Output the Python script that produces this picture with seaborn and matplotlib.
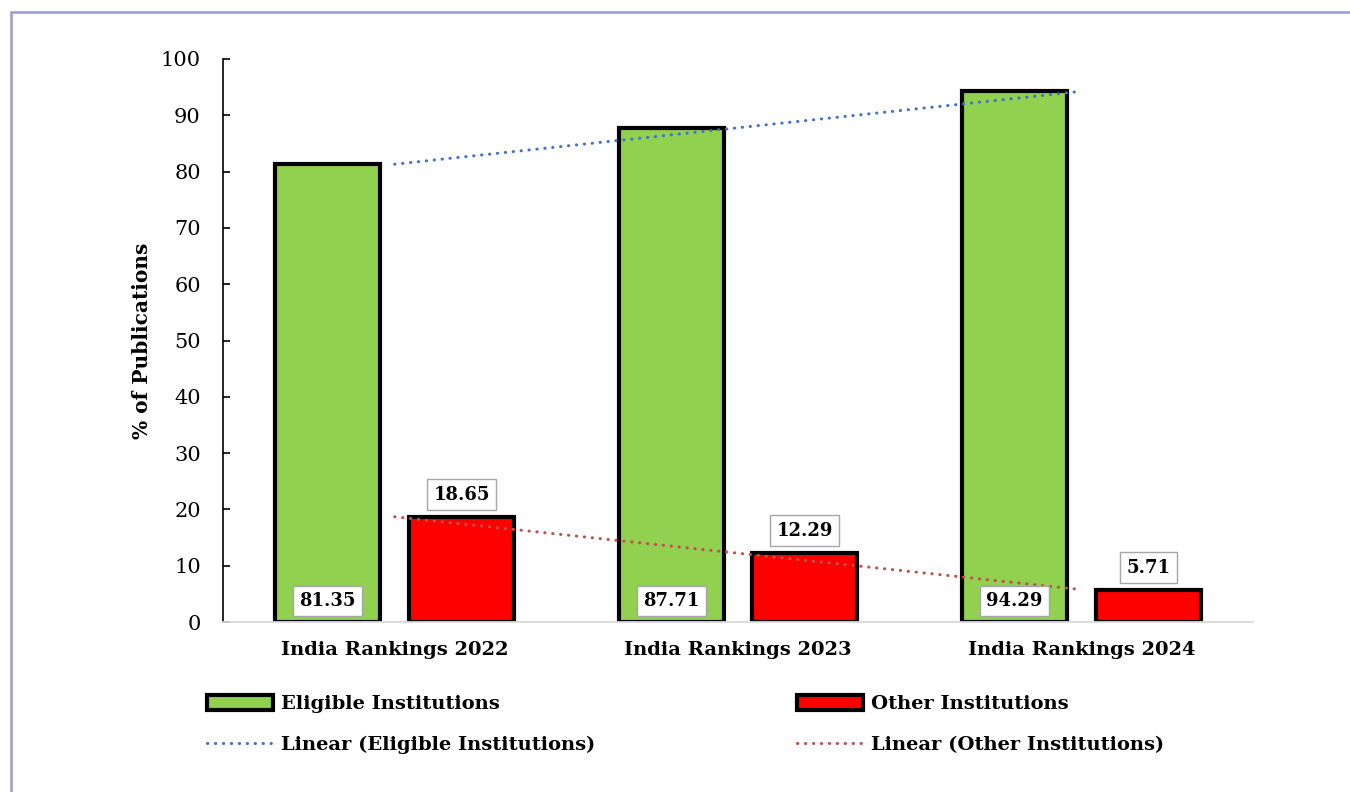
import numpy as np
import pandas as pd
import matplotlib
matplotlib.use("Agg")
import matplotlib.pyplot as plt
import seaborn as sns
from matplotlib.patches import Patch, Rectangle
from matplotlib.lines import Line2D

# ---- data ----
categories = ["India Rankings 2022", "India Rankings 2023", "India Rankings 2024"]
eligible = [81.35, 87.71, 94.29]
other = [18.65, 12.29, 5.71]
groups = ["Eligible Institutions", "Other Institutions"]
y_ticks = [0, 10, 20, 30, 40, 50, 60, 70, 80, 90, 100]

GREEN = "#92d050"
RED = "#ff0000"
BLUE_T = "#4472c4"
RED_T = "#c0504d"

sns.set_theme(style="white")
plt.rcParams["font.family"] = ["DejaVu Serif"]
plt.rcParams.update({"text.color": "black", "axes.labelcolor": "black",
                     "xtick.color": "black", "ytick.color": "black"})

df = pd.DataFrame({
    "Ranking": categories * 2,
    "Share": eligible + other,
    "Group": [groups[0]] * 3 + [groups[1]] * 3,
})

fig = plt.figure(figsize=(13.5, 7.92), dpi=100)
ax = fig.add_axes([223 / 1350, 1 - 622 / 792, (1253 - 223) / 1350, (622 - 59) / 792])

sns.barplot(data=df, x="Ranking", y="Share", hue="Group", order=categories,
            hue_order=groups, palette=[GREEN, RED], width=0.78, gap=0.216,
            edgecolor="black", linewidth=3, saturation=1, legend=False, ax=ax)
ax.set_xlim(-0.5, 2.5)

# trendlines
xs = np.arange(len(categories))
for vals, col in [(eligible, BLUE_T), (other, RED_T)]:
    k, b = np.polyfit(xs, vals, 1)
    xx = np.array([xs[0], xs[-1]])
    ax.plot(xx, k * xx + b, color=col, lw=2.2, linestyle=(0, (0.1, 2.5)),
            dash_capstyle="round", zorder=5)

# data labels
box = dict(boxstyle="square,pad=0.35", fc="white", ec="#a6a6a6", lw=1)
cont_g, cont_r = ax.containers[0], ax.containers[1]
for bar, v in zip(cont_g, eligible):
    ax.text(bar.get_x() + bar.get_width() / 2, 3.7, f"{v:.2f}", ha="center",
            va="center", fontsize=13, fontweight="bold", bbox=box, zorder=6)
for bar, v in zip(cont_r, other):
    ax.annotate(f"{v:.2f}", (bar.get_x() + bar.get_width() / 2, v),
                xytext=(0, 16), textcoords="offset points", ha="center",
                va="center", fontsize=13, fontweight="bold", bbox=box, zorder=6)

ax.set_ylim(0, 100)
ax.set_yticks(y_ticks)
ax.set_xlabel("")
ax.set_ylabel("% of Publications", fontsize=14.5, fontweight="bold", labelpad=6)
for s in ["top", "right"]:
    ax.spines[s].set_visible(False)
ax.spines["left"].set_color("black")
ax.spines["left"].set_linewidth(1.2)
ax.spines["bottom"].set_color("#d9d9d9")
ax.spines["bottom"].set_linewidth(1.3)
ax.tick_params(axis="y", direction="in", length=5, width=1.2, color="black",
               pad=16, labelsize=15, left=True)
ax.tick_params(axis="x", length=0, pad=14)
for lab in ax.get_xticklabels():
    lab.set_fontsize(14)
    lab.set_fontweight("bold")

# legend
handles = [
    Patch(fc=GREEN, ec="black", lw=3),
    Line2D([0], [0], color=BLUE_T, lw=2.2, linestyle=(0, (0.1, 2.5)), dash_capstyle="round"),
    Patch(fc=RED, ec="black", lw=3),
    Line2D([0], [0], color=RED_T, lw=2.2, linestyle=(0, (0.1, 2.5)), dash_capstyle="round"),
]
labels = ["Eligible Institutions", "Linear (Eligible Institutions)",
          "Other Institutions", "Linear (Other Institutions)"]
fig.legend(handles, labels, loc="upper left", bbox_to_anchor=(197 / 1350, 1 - 685 / 792),
           ncol=2, frameon=False, borderpad=0, handlelength=3.4, handleheight=0.8,
           handletextpad=0.4, columnspacing=10.4, labelspacing=1.2,
           prop={"weight": "bold", "size": 14})

# figure border
fig.patches.append(Rectangle((11 / 1350, -0.1), 1.2, 1 - 12 / 792 + 0.1,
                             transform=fig.transFigure, fill=False,
                             ec="#9f99d0", lw=1.8))

fig.savefig("out.png", dpi=100)
